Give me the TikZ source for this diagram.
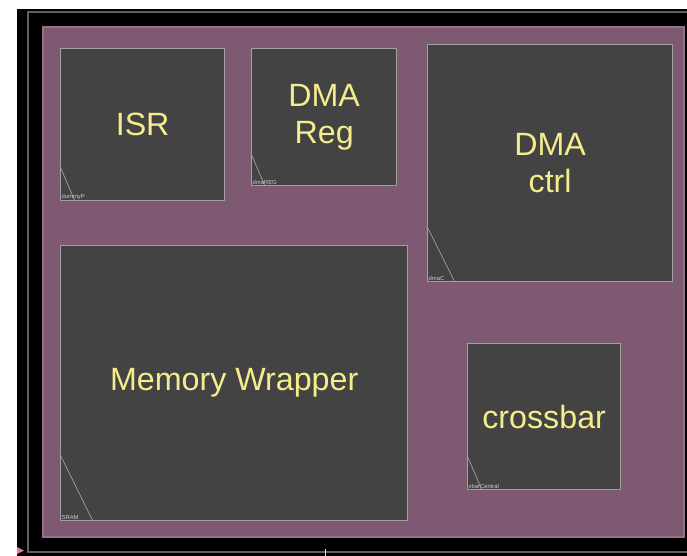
\documentclass[tikz,border=0pt]{standalone}
\usepackage{fontspec}
\setmainfont{Liberation Sans}
\usetikzlibrary{calc}
\definecolor{fpframe}{RGB}{0,0,0}
\definecolor{fpline}{RGB}{95,95,95}
\definecolor{fpbg}{RGB}{125,90,113}
\definecolor{fpbgedge}{RGB}{150,112,138}
\definecolor{fpblock}{RGB}{67,67,67}
\definecolor{fpedge}{RGB}{160,160,160}
\definecolor{fptag}{RGB}{205,205,205}
\definecolor{fptext}{RGB}{245,236,140}
\definecolor{fppink}{RGB}{230,120,160}

\begin{document}
\begin{tikzpicture}[x=0.03cm,y=-0.03cm,
  block/.style={draw=fpedge,fill=fpblock,line width=1.1pt,anchor=north west,inner sep=0pt,
    font=\fontsize{27.5}{32}\selectfont,text=fptext,align=center},
  tag/.style={font=\fontsize{5}{6}\selectfont,text=fptag,anchor=south west,inner sep=1.2pt},
  diag/.style={draw=fpedge,line width=0.6pt}]
  % Canvas
  \useasboundingbox[fill=white] (0,0) rectangle (687,556);
  \fill[fpframe] (17,9) rectangle (687,556);
  \draw[fpline,line width=1pt] (28,12) rectangle (690,552);
  \draw[fpbgedge,fill=fpbg,line width=1.2pt] (43,27) rectangle (684,537);
  % Blocks
  \node[block,minimum width=4.92cm,minimum height=4.56cm] (isr) at (60,48) {\raisebox{-4pt}{ISR}};
  \node[block,minimum width=4.35cm,minimum height=4.11cm] (dmareg) at (251,48) {DMA\\Reg};
  \node[block,minimum width=7.35cm,minimum height=7.11cm] (dmactrl) at (427,44) {DMA\\ctrl};
  \node[block,minimum width=10.41cm,minimum height=8.25cm] (memwrap) at (60,245) {\raisebox{-4pt}{Memory Wrapper}};
  \node[block,minimum width=4.59cm,minimum height=4.38cm] (xbar) at (467,343) {crossbar};
  % Corner marks
  \draw[diag] ($(isr.south west)+(0,-35)$) -- ($(isr.south west)+(15,0)$);
  \draw[diag] ($(dmareg.south west)+(0,-33)$) -- ($(dmareg.south west)+(14,0)$);
  \draw[diag] ($(dmactrl.south west)+(0,-56)$) -- ($(dmactrl.south west)+(28,0)$);
  \draw[diag] ($(memwrap.south west)+(0,-67)$) -- ($(memwrap.south west)+(33,0)$);
  \draw[diag] ($(xbar.south west)+(0,-35)$) -- ($(xbar.south west)+(15,0)$);
  % Instance names
  \node[tag] (isrname) at (isr.south west) {dummyP};
  \node[tag] (dmaregname) at (dmareg.south west) {dmaREG};
  \node[tag] (dmactrlname) at (dmactrl.south west) {dmaC};
  \node[tag] (memwrapname) at (memwrap.south west) {SRAM};
  \node[tag] (xbarname) at (xbar.south west) {xbarCentral};
  % Origin marks
  \fill[fppink] (17,547) -- (24,550.5) -- (17,554) -- cycle;
  \draw[fptext,line width=0.8pt] (325,549) -- (325,556);
\end{tikzpicture}
\end{document}
